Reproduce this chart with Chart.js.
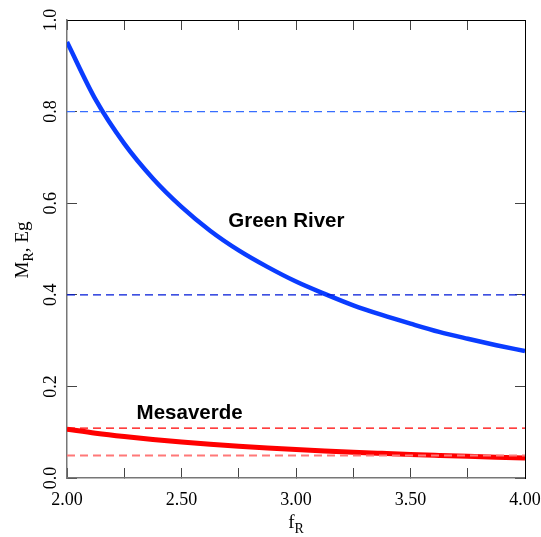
<!DOCTYPE html>
<html>
<head>
<meta charset="utf-8">
<script src="https://cdn.jsdelivr.net/npm/chart.js@4.4.0/dist/chart.umd.min.js"></script>
<style>
  body { margin: 0; background: #fff; }
  canvas { display: block; }
</style>
</head>
<body>
<canvas id="chart" width="541" height="537"></canvas>
<script>
// values
const fR = [2.000, 2.125, 2.250, 2.375, 2.500, 2.625, 2.750, 2.875, 3.000,
            3.125, 3.250, 3.375, 3.500, 3.625, 3.750, 3.875, 4.000];
const greenRiver = [0.952, 0.826, 0.730, 0.654, 0.592, 0.540, 0.497, 0.461, 0.429,
                    0.402, 0.377, 0.356, 0.337, 0.319, 0.304, 0.290, 0.277];
const mesaverde = [0.1067, 0.0979, 0.0905, 0.0841, 0.0785, 0.0737, 0.0694, 0.0656, 0.0622,
                   0.0591, 0.0563, 0.0538, 0.0514, 0.0493, 0.0473, 0.0455, 0.0439];

// horizontal dashed reference levels
const refX = [2.00, 4.00];
const greenRiverRefs = [0.80, 0.40];
const mesaverdeRefs = [0.109, 0.049];

const xTickLabels = ['2.00', '2.50', '3.00', '3.50', '4.00'];
const yTickLabels = ['0.0', '0.2', '0.4', '0.6', '0.8', '1.0'];

const seriesLabels = [
    { text: 'Green River', x: 2.704, y: 0.547 },
    { text: 'Mesaverde', x: 2.304, y: 0.128 }
];

const SERIF = '"Liberation Serif", "DejaVu Serif", serif';
const SANS = '"Liberation Sans", Arial, sans-serif';

function points(xs, ys) {
    return xs.map((x, i) => ({ x: x, y: ys[i] }));
}

function level(v) {
    return refX.map(x => ({ x: x, y: v }));
}

function dashed(v, color, width) {
    return {
        data: level(v),
        borderColor: color,
        borderWidth: width,
        borderDash: [8, 5],
        pointRadius: 0
    };
}

const textPlugin = {
    id: 'textPlugin',
    afterDraw(chart) {
        const ctx = chart.ctx;
        const xs = chart.scales.x;
        const ys = chart.scales.y;
        ctx.save();
        ctx.fillStyle = '#000';

        // y tick labels, rotated
        ctx.font = '18px ' + SERIF;
        ctx.textAlign = 'center';
        ctx.textBaseline = 'middle';
        yTickLabels.forEach(t => {
            ctx.save();
            ctx.translate(51, ys.getPixelForValue(parseFloat(t)));
            ctx.rotate(-Math.PI / 2);
            ctx.fillText(t, 0, 0);
            ctx.restore();
        });

        // y axis title  M_R, Eg
        ctx.save();
        ctx.translate(28, 250);
        ctx.rotate(-Math.PI / 2);
        ctx.textAlign = 'left';
        ctx.textBaseline = 'alphabetic';
        const big = '19px ' + SERIF, small = '14px ' + SERIF;
        ctx.font = big;
        const wM = ctx.measureText('M').width;
        const wRest = ctx.measureText(', Eg').width;
        ctx.font = small;
        const wR = ctx.measureText('R').width;
        let x0 = -(wM + wR + wRest) / 2;
        ctx.font = big;
        ctx.fillText('M', x0, 0);
        ctx.font = small;
        ctx.fillText('R', x0 + wM, 5);
        ctx.font = big;
        ctx.fillText(', Eg', x0 + wM + wR, 0);
        ctx.restore();

        // x axis title  f_R
        ctx.textAlign = 'left';
        ctx.textBaseline = 'alphabetic';
        ctx.font = big;
        const wf = ctx.measureText('f').width;
        ctx.font = small;
        const wR2 = ctx.measureText('R').width;
        const cx = xs.getPixelForValue(3.0);
        const fx = cx - (wf + wR2) / 2;
        ctx.font = big;
        ctx.fillText('f', fx, 528);
        ctx.font = small;
        ctx.fillText('R', fx + wf, 533);

        // series labels
        ctx.font = 'bold 20.5px ' + SANS;
        seriesLabels.forEach(l => {
            ctx.fillText(l.text, xs.getPixelForValue(l.x), ys.getPixelForValue(l.y));
        });
        ctx.restore();
    }
};

const inwardGrid = {
    drawOnChartArea: false,
    drawTicks: true,
    tickLength: -10,
    color: '#444',
    lineWidth: 1
};

new Chart(document.getElementById('chart'), {
    type: 'line',
    data: {
        datasets: [
            dashed(greenRiverRefs[0], 'rgb(55,110,255)', 1.3),
            dashed(greenRiverRefs[1], 'rgb(0,25,215)', 1.2),
            dashed(mesaverdeRefs[0], 'rgb(255,0,0)', 1.2),
            dashed(mesaverdeRefs[1], 'rgb(255,120,120)', 2),
            {
                label: 'Green River',
                data: points(fR, greenRiver),
                borderColor: '#0a3cff',
                borderWidth: 4.5,
                pointRadius: 0,
                cubicInterpolationMode: 'monotone'
            },
            {
                label: 'Mesaverde',
                data: points(fR, mesaverde),
                borderColor: '#ff0000',
                borderWidth: 5,
                pointRadius: 0,
                cubicInterpolationMode: 'monotone'
            }
        ]
    },
    options: {
        responsive: false,
        animation: false,
        layout: { padding: 0 },
        plugins: {
            legend: { display: false },
            tooltip: { enabled: false }
        },
        scales: {
            x: {
                type: 'linear',
                position: 'bottom',
                min: 2,
                max: 4,
                ticks: {
                    stepSize: 0.25,
                    autoSkip: false,
                    maxRotation: 0,
                    padding: 21,
                    color: '#000',
                    font: { family: SERIF, size: 18 },
                    callback: v => {
                        const t = v.toFixed(2);
                        return xTickLabels.includes(t) ? t : '';
                    }
                },
                grid: inwardGrid,
                border: { color: '#777', width: 1.5 },
                afterFit: s => { s.height = 59; s.paddingLeft = 0; s.paddingRight = 0; }
            },
            x2: {
                type: 'linear',
                position: 'top',
                min: 2,
                max: 4,
                ticks: { stepSize: 0.25, display: false },
                grid: inwardGrid,
                border: { color: '#000', width: 1 },
                afterFit: s => { s.height = 20; s.paddingLeft = 0; s.paddingRight = 0; }
            },
            y: {
                position: 'left',
                min: 0,
                max: 1,
                ticks: { stepSize: 0.2, display: false },
                grid: inwardGrid,
                border: { color: '#777', width: 1.5 },
                afterFit: s => { s.width = 67; s.paddingTop = 0; s.paddingBottom = 0; }
            },
            y2: {
                position: 'right',
                min: 0,
                max: 1,
                ticks: { stepSize: 0.2, display: false },
                grid: inwardGrid,
                border: { color: '#000', width: 1 },
                afterFit: s => { s.width = 16; s.paddingTop = 0; s.paddingBottom = 0; }
            }
        }
    },
    plugins: [textPlugin]
});
</script>
</body>
</html>
